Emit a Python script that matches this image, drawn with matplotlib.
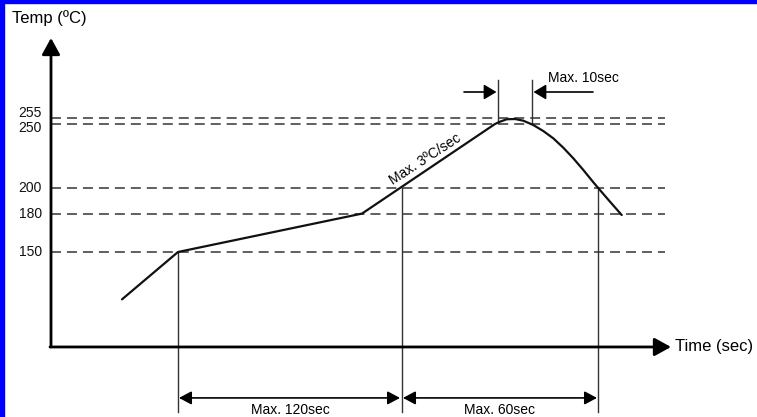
import matplotlib
matplotlib.use("Agg")
import matplotlib.pyplot as plt
from matplotlib.patches import Rectangle

plt.rcParams['lines.scale_dashes'] = False
FONT = ['Liberation Sans', 'DejaVu Sans']

# ---- data (schematic time units, temperature in degC) ----
profile_time = [71, 127, 311, 444, 449, 455.7, 464, 472.3, 482.3, 492.3, 502.3,
                512.3, 522.3, 532.3, 542.3, 548.3, 559, 570.7]
profile_temp = [113, 150, 180, 250, 251.8, 253.7, 253.9, 252.6, 249.2, 244.5, 238.8,
                231.5, 223.2, 214.1, 204.5, 199, 189.3, 178.9]

ref_temps = [255, 250, 200, 180, 150]
ref_labels = ['255', '250', '200', '180', '150']
ref_label_pos = [258.6, 246.9, 200, 180, 150]

marker_times = [127, 351, 547]          # vertical guide lines
marker_top = [150, 200, 200]
peak_times = [447, 481]                 # peak window guide lines

span_labels = ['Max. 120sec', 'Max. 60sec']
peak_label = 'Max. 10sec'
slope_label = 'Max. 3ºC/sec'
y_title = 'Temp (ºC)'
x_title = 'Time (sec)'

# ---- figure ----
W, H = 757, 417
fig = plt.figure(figsize=(W / 100, H / 100), dpi=100)
ax = fig.add_axes([0, 0, 1, 1])
px_per_deg = 1.28
ax.set_xlim(-51, W - 51)
ax.set_ylim(150 - (H - 252) / px_per_deg, 150 + 252 / px_per_deg)
ax.axis('off')

axis_y0 = 75.8
y_tip = 317.2
x_tip = 620
dash_end = 614
bottom = 25

# reference dashed lines
for t in ref_temps:
    ax.plot([0, dash_end], [t, t], color='#444444', lw=1.2, dashes=(7.2, 4.3))
for lab, pos in zip(ref_labels, ref_label_pos):
    ax.text(-9, pos, lab, ha='right', va='center', fontsize=10, family=FONT, color='#111111')

# axes with arrows
ax.annotate('', xy=(0, y_tip), xytext=(0, axis_y0),
            arrowprops=dict(arrowstyle='-|>,head_length=10,head_width=5.5', mutation_scale=1,
                            lw=2, color='black', shrinkA=0, shrinkB=0))
ax.annotate('', xy=(x_tip, axis_y0), xytext=(-1, axis_y0),
            arrowprops=dict(arrowstyle='-|>,head_length=10,head_width=5.5', mutation_scale=1,
                            lw=2, color='black', shrinkA=0, shrinkB=0))
ax.text(-39, 332.8, y_title, ha='left', va='center', fontsize=12, family=FONT)
ax.text(624, axis_y0, x_title, ha='left', va='center', fontsize=12, family=FONT)

# vertical guide lines
for t, top in zip(marker_times, marker_top):
    ax.plot([t, t], [bottom, top], color='#333333', lw=1)
for t in peak_times:
    ax.plot([t, t], [250.8, 284.4], color='#333333', lw=1)

# profile curve
ax.plot(profile_time, profile_temp, color='#111111', lw=1.6,
        solid_joinstyle='round', solid_capstyle='round')

# peak window arrows
ap_small = dict(arrowstyle='-|>,head_length=7.5,head_width=4.5', mutation_scale=1,
                lw=1.2, color='black', shrinkA=0, shrinkB=0)
ax.annotate('', xy=(peak_times[0] - 1.5, 275), xytext=(413, 275), arrowprops=ap_small)
ax.annotate('', xy=(peak_times[1] + 1.5, 275), xytext=(542, 275), arrowprops=ap_small)
ax.text(497, 285.9, peak_label, ha='left', va='center', fontsize=10, family=FONT)

# slope label
ax.text(374, 222.7, slope_label, ha='center', va='center', fontsize=10, family=FONT,
        rotation=33, rotation_mode='anchor')

# bottom span arrows
ap_span = dict(arrowstyle='<|-|>,head_length=7.5,head_width=4', mutation_scale=1,
               lw=1.2, color='black', shrinkA=0, shrinkB=0)
ax.annotate('', xy=(marker_times[1] - 2, 36), xytext=(marker_times[0] + 1, 36), arrowprops=ap_span)
ax.annotate('', xy=(marker_times[2] - 1, 36), xytext=(marker_times[1] + 1, 36), arrowprops=ap_span)
ax.text((marker_times[0] + marker_times[1]) / 2, 26.6, span_labels[0], ha='center', va='center',
        fontsize=10, family=FONT)
ax.text((marker_times[1] + marker_times[2]) / 2, 26.6, span_labels[1], ha='center', va='center',
        fontsize=10, family=FONT)

# blue frame edges (left and top)
fig.patches.append(Rectangle((0, 0), 4 / W, 1, transform=fig.transFigure, color='#0000ff', zorder=10))
fig.patches.append(Rectangle((0, 1 - 2.5 / H), 1, 2.5 / H, transform=fig.transFigure, color='#0000ff', zorder=10))

fig.savefig('out.png', dpi=100)
